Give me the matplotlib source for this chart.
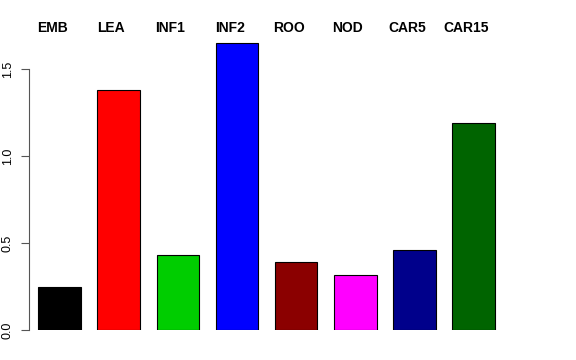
import matplotlib
matplotlib.use("Agg")
import matplotlib.pyplot as plt
import matplotlib.transforms as mtransforms
import numpy as np

# Data
tissues = ["EMB", "LEA", "INF1", "INF2", "ROO", "NOD", "CAR5", "CAR15"]
values = [0.246, 1.381, 0.432, 1.651, 0.392, 0.318, 0.459, 1.189]
colors = ["#000000", "#FF0000", "#00CD00", "#0000FF", "#8B0000", "#FF00FF", "#00008B", "#006400"]
yticks = [0.0, 0.5, 1.0, 1.5]

plt.rcParams['font.family'] = ['Liberation Sans', 'DejaVu Sans']

fig = plt.figure(figsize=(5.76, 3.6), dpi=100)
# axes placed so that the y spine sits at px 29, y=0 at px 330 (from top)
ax = fig.add_axes([29 / 576, 30 / 360, (540 - 29) / 576, (330 - 36) / 360])

x = np.arange(len(tissues))
bar_w = 0.72
ax.bar(x, values, width=bar_w, color=colors, edgecolor='black', linewidth=0.8)

px_per_unit_x = 59.17
ax.set_xlim((29 - 59.5) / px_per_unit_x, (540 - 59.5) / px_per_unit_x)
ax.set_ylim(0, (330 - 36) / 173.8)

# R-style axes: only the left axis, bounded to the tick range
for side in ['top', 'right', 'bottom']:
    ax.spines[side].set_visible(False)
ax.spines['left'].set_bounds(0, 1.5)
ax.spines['left'].set_color('#555555')
ax.spines['left'].set_linewidth(0.8)
ax.set_xticks([])
ax.set_yticks(yticks)
ax.set_yticklabels([f"{t:.1f}" for t in yticks], rotation=90, va='center', fontsize=9)
ax.tick_params(axis='y', length=6, width=0.8, color='#555555', pad=5)

# tissue names along the top, slightly left of each bar centre
trans = mtransforms.blended_transform_factory(ax.transData, fig.transFigure)
for xi, name in zip(x, tissues):
    ax.text(xi - 7.5 / px_per_unit_x, (360 - 28) / 360, name, transform=trans,
            ha='center', va='center', fontsize=10, fontweight='bold')

plt.savefig("out.png", dpi=100)
plt.close()
